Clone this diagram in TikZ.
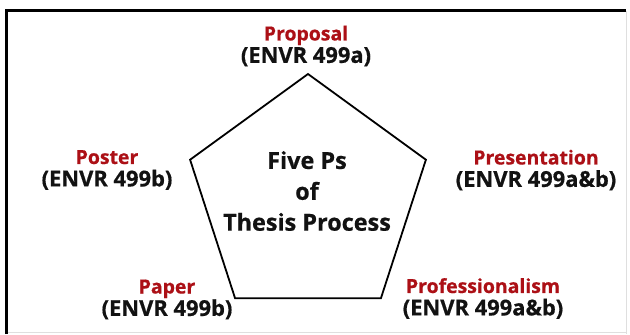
\documentclass[tikz,border=0pt]{standalone}
\usepackage{fontspec}
\setmainfont{Open Sans}[BoldFeatures={FakeBold=0.6}]
\usetikzlibrary{calc}
\definecolor{pred}{RGB}{172,16,22}
\definecolor{ptext}{RGB}{18,18,18}
\newcommand{\redline}[1]{{\color{pred}\fontsize{19.5}{22.5}\selectfont #1}}
\newcommand{\blkline}[1]{{\fontsize{22}{22.5}\selectfont #1}}
\begin{document}
\begin{tikzpicture}[x=1bp,y=-1bp,
  lbl/.style={align=center,text=ptext,font=\bfseries\fontsize{22}{22.5}\selectfont,inner sep=0pt},
  ctr/.style={align=center,text=ptext,font=\bfseries\fontsize{23.5}{31}\selectfont,inner sep=0pt},
  frame/.style={line width=3bp,black},
  pent/.style={line width=1.8bp,black,line join=miter}]
\useasboundingbox (0,0) rectangle (630,334);
\fill[white] (0,0) rectangle (630,334);
% frame
\coordinate (fTL) at (6,10);
\coordinate (fTR) at (626,10);
\coordinate (fBL) at (6,334);
\coordinate (fBR) at (626,334);
\draw[gray!25,line width=1bp] (626,11) -- (fBR);
\draw[gray!25,line width=1bp] (6,332.5) -- (626,332.5);
\draw[frame] (fBL) -- (fTL) -- (fTR);
% pentagon
\coordinate (c) at (308,198);
\coordinate (p1) at ($(c)+(0,-124)$);
\coordinate (p2) at ($(c)+(-117.9,-38.3)$);
\coordinate (p3) at ($(c)+(-72.9,100.3)$);
\coordinate (p4) at ($(c)+(72.9,100.3)$);
\coordinate (p5) at ($(c)+(117.9,-38.3)$);
\draw[pent] (p1) -- (p2) -- (p3) -- (p4) -- (p5) -- cycle;
\node[ctr] (title) at (307,191) {Five Ps\\of\\Thesis Process};
\node[lbl] (proposal) at (306,46) {\redline{Proposal}\\\blkline{(ENVR 499a)}};
\node[lbl] (poster) at (107,170) {\redline{Poster}\\\blkline{(ENVR 499b)}};
\node[lbl] (presentation) at (536,170) {\redline{Presentation}\\\blkline{(ENVR 499a\&b)}};
\node[lbl] (paper) at (167,299.5) {\redline{Paper}\\\blkline{(ENVR 499b)}};
\node[lbl] (professionalism) at (483,298.5) {\redline{Professionalism}\\\blkline{(ENVR 499a\&b)}};
\end{tikzpicture}
\end{document}
